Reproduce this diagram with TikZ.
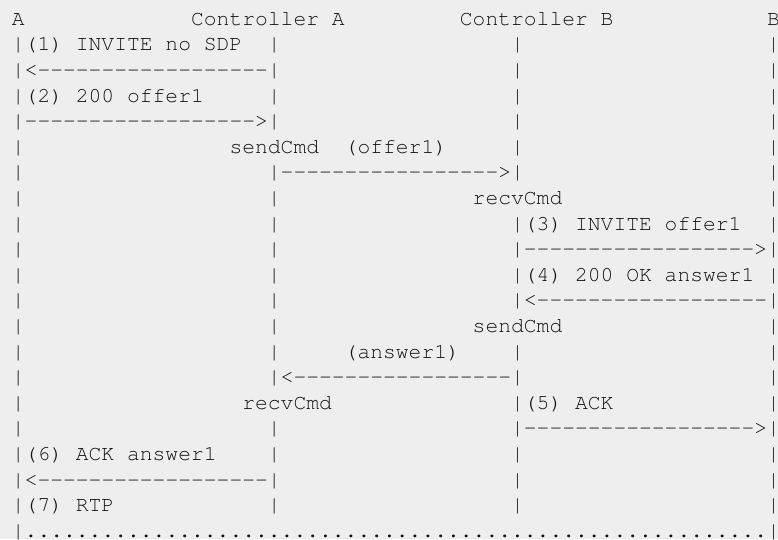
\documentclass[tikz,border=0pt]{standalone}
\usepackage[T1,TU]{fontenc}
\usepackage{tikz}
\definecolor{paper}{HTML}{EEEEEE}
\definecolor{ink}{HTML}{111111}
\newcommand{\asciifont}{\fontencoding{T1}\fontfamily{pcr}\fontsize{16}{19.2}\selectfont}
% a run of hyphens that never turns into dashes
\newcommand{\dashes}[1]{\foreach \i in {1,...,#1}{-}}
\tikzstyle{cell} = [anchor=base west, inner sep=0pt, outer sep=0pt, font=\asciifont, text=ink]

\begin{document}
\begin{tikzpicture}[x=9.6pt, y=-19.2pt]
		% one unit = one character cell, rows counted downwards
		\useasboundingbox (-0.93,-0.99) rectangle (59.85,20.07);
		\clip (-0.93,-0.99) rectangle (59.85,20.07);
		\fill [paper] (-0.93,-0.99) rectangle (59.85,20.07);
		% header
		\node (hdrA) [cell] at (0,0) {A};
		\node (hdrCtrlA) [cell] at (14,0) {Controller A};
		\node (hdrCtrlB) [cell] at (35,0) {Controller B};
		\node (hdrB) [cell] at (59,0) {B};
		% lifelines
		\foreach \r in {1,...,20}
			\node (laneA-\r) [cell] at (0,\r) {|};
		\foreach \r in {1,2,3,4,6,7,8,9,10,11,12,13,14,16,17,18,19}
			\node (laneCtrlA-\r) [cell] at (20,\r) {|};
		\foreach \r in {1,2,3,4,5,6,8,9,10,11,13,14,15,16,17,18,19}
			\node (laneCtrlB-\r) [cell] at (39,\r) {|};
		\foreach \r in {1,...,20}
			\node (laneB-\r) [cell] at (59,\r) {|};
		% A <-> Controller A
		\node (msgInvite) [cell] at (1,1) {(1) INVITE no SDP};
		\node (arrInvite) [cell] at (1,2) {<\dashes{18}};
		\node (msgOffer) [cell] at (1,3) {(2) 200 offer1};
		\node (arrOffer) [cell] at (1,4) {\dashes{18}>};
		% Controller A -> Controller B
		\node (sendOffer) [cell] at (17,5) {sendCmd};
		\node (cmdOffer) [cell] at (26,5) {(offer1)};
		\node (arrCmdOffer) [cell] at (21,6) {\dashes{17}>};
		\node (recvOffer) [cell] at (36,7) {recvCmd};
		% Controller B <-> B
		\node (msgInviteB) [cell] at (40,8) {(3) INVITE offer1};
		\node (arrInviteB) [cell] at (40,9) {\dashes{18}>};
		\node (msgAnswer) [cell] at (40,10) {(4) 200 OK answer1};
		\node (arrAnswer) [cell] at (40,11) {<\dashes{18}};
		% Controller B -> Controller A
		\node (sendAnswer) [cell] at (36,12) {sendCmd};
		\node (cmdAnswer) [cell] at (26,13) {(answer1)};
		\node (arrCmdAnswer) [cell] at (21,14) {<\dashes{17}};
		\node (recvAnswer) [cell] at (18,15) {recvCmd};
		\node (msgAckB) [cell] at (40,15) {(5) ACK};
		\node (arrAckB) [cell] at (40,16) {\dashes{18}>};
		% back to A
		\node (msgAck) [cell] at (1,17) {(6) ACK answer1};
		\node (arrAck) [cell] at (1,18) {<\dashes{18}};
		\node (msgRtp) [cell] at (1,19) {(7) RTP};
		\node (media) [cell] at (1,20) {..........................................................};
\end{tikzpicture}
\end{document}
